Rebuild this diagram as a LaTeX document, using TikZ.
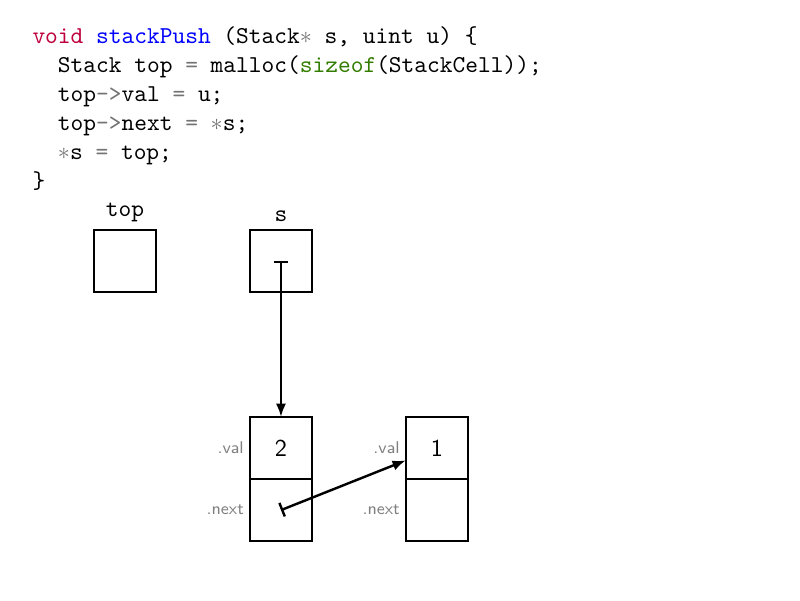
\documentclass[tikz,border=0pt]{standalone}
\usepackage{xcolor}
\usepackage{tikz}
\usetikzlibrary{arrows.meta, positioning}
\definecolor{kwred}{RGB}{190,0,60}
\definecolor{fnblue}{RGB}{0,0,255}
\definecolor{kwgreen}{RGB}{50,125,0}
\newcommand{\op}[1]{\textcolor{black!55}{#1}}
\newcommand{\ind}{\hphantom{xx}}
\tikzset{
  codetext/.style={align=left, font=\ttfamily, inner sep=0pt},
  varbox/.style={rectangle, draw, semithick, minimum width=0.9cm, minimum height=0.9cm, inner sep=0pt, outer sep=0pt},
  cellbox/.style={rectangle, draw, semithick, minimum width=0.9cm, minimum height=0.9cm, inner sep=0pt, outer sep=0pt, font=\sffamily},
  fieldlbl/.style={font=\sffamily\scriptsize, text=black!50, label distance=-1pt},
  ptrarr/.style={{Bar[width=6pt]}-{Latex[length=5.5pt,width=4.2pt]}, line width=1pt},
}
\begin{document}
\begin{tikzpicture}[node distance=1.36cm]
  \useasboundingbox (0,0) rectangle (11.594,-8.696);
  % Code
  \node[codetext, anchor=north west] (code) at (0.464,-0.377) {%
    \textcolor{kwred}{void} \textcolor{fnblue}{stackPush} (Stack\op{$\ast$} s, uint u) \{\\
    \ind Stack top \op{=} malloc(\textcolor{kwgreen}{sizeof}(StackCell));\\
    \ind top\op{->}val \op{=} u;\\
    \ind top\op{->}next \op{=} \op{$\ast$}s;\\
    \ind\op{$\ast$}s \op{=} top;\\
    \}};

  % Variables
  \node[varbox, label={above:\texttt{top}}] (top) at (1.812,-3.783) {};
  \node[varbox, right=of top, label={above:\texttt{s}}] (s) {};

  % Stack cells
  \node[cellbox, below=1.81cm of s, label={[fieldlbl]left:.val}] (cellAval) {2};
  \node[cellbox, below=0pt of cellAval, label={[fieldlbl]left:.next}] (cellAnext) {};
  \node[cellbox, right=of cellAval, label={[fieldlbl]left:.val}] (cellBval) {1};
  \node[cellbox, below=0pt of cellBval, label={[fieldlbl]left:.next}] (cellBnext) {};

  % Pointers
  \draw[ptrarr] (s.center) -- (cellAval.north);
  \draw[ptrarr] (cellAnext.center) -- (cellBval);
\end{tikzpicture}
\end{document}
